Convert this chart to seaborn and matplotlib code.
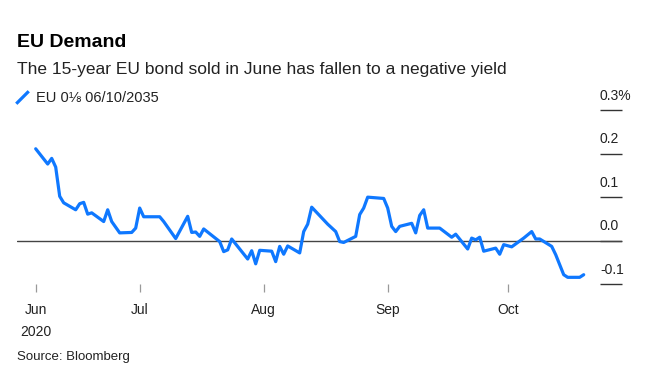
import matplotlib
matplotlib.use("Agg")
import matplotlib.pyplot as plt
from matplotlib.lines import Line2D
import seaborn as sns
import pandas as pd

# yield of the EU 0 1/8 06/10/2035 bond, in percent
dates = [
    "2020-06-05", "2020-06-08", "2020-06-09", "2020-06-10", "2020-06-11", "2020-06-12",
    "2020-06-15", "2020-06-16", "2020-06-17", "2020-06-18", "2020-06-19", "2020-06-22",
    "2020-06-23", "2020-06-24", "2020-06-26", "2020-06-29", "2020-06-30", "2020-07-01",
    "2020-07-02", "2020-07-06", "2020-07-07", "2020-07-09", "2020-07-10", "2020-07-13",
    "2020-07-14", "2020-07-15", "2020-07-16", "2020-07-17", "2020-07-21", "2020-07-22",
    "2020-07-23", "2020-07-24", "2020-07-28", "2020-07-29", "2020-07-30", "2020-07-31",
    "2020-08-03", "2020-08-04", "2020-08-05", "2020-08-06", "2020-08-07", "2020-08-10",
    "2020-08-11", "2020-08-12", "2020-08-13", "2020-08-17", "2020-08-19", "2020-08-20",
    "2020-08-21", "2020-08-24", "2020-08-25", "2020-08-26", "2020-08-27", "2020-08-31",
    "2020-09-01", "2020-09-02", "2020-09-03", "2020-09-04", "2020-09-07", "2020-09-08",
    "2020-09-09", "2020-09-10", "2020-09-11", "2020-09-14", "2020-09-17", "2020-09-18",
    "2020-09-21", "2020-09-22", "2020-09-23", "2020-09-24", "2020-09-25", "2020-09-28",
    "2020-09-29", "2020-09-30", "2020-10-02", "2020-10-05", "2020-10-07", "2020-10-08",
    "2020-10-09", "2020-10-12", "2020-10-13", "2020-10-15", "2020-10-16", "2020-10-19",
    "2020-10-20",
]
yields = [
    0.211, 0.176, 0.189, 0.169, 0.102, 0.087,
    0.071, 0.085, 0.088, 0.061, 0.064, 0.044,
    0.071, 0.044, 0.018, 0.019, 0.029, 0.075,
    0.055, 0.055, 0.044, 0.018, 0.005, 0.056,
    0.019, 0.020, 0.010, 0.027, -0.002, -0.025,
    -0.021, 0.004, -0.042, -0.023, -0.053, -0.022,
    -0.024, -0.048, -0.013, -0.031, -0.012, -0.028,
    0.021, 0.038, 0.077, 0.038, 0.021, -0.002,
    -0.004, 0.010, 0.060, 0.075, 0.100, 0.097,
    0.075, 0.033, 0.021, 0.033, 0.040, 0.018,
    0.058, 0.071, 0.029, 0.029, 0.008, 0.015,
    -0.019, 0.006, 0.002, 0.008, -0.024, -0.017,
    -0.031, -0.009, -0.014, 0.006, 0.021, 0.004,
    0.004, -0.013, -0.032, -0.078, -0.084, -0.084,
    -0.078,
]

x_ticks = ["2020-06-05", "2020-07-01", "2020-08-01", "2020-09-01", "2020-10-01"]
x_tick_labels = ["Jun\n2020", "Jul", "Aug", "Sep", "Oct"]
y_ticks = [-0.1, 0.0, 0.1, 0.2, 0.3]
y_tick_labels = ["-0.1", "0.0", "0.1", "0.2", "0.3%"]

blue = "#0f78ff"
txt = "#222222"

sns.set_theme(style="white")
plt.rcParams["font.family"] = ["Liberation Sans", "DejaVu Sans"]

fig = plt.figure(figsize=(6.5, 3.74), dpi=100)
ax = fig.add_axes([17 / 650, 1 - 284.3 / 374, 605 / 650, 174.3 / 374])

df = pd.DataFrame({"date": pd.to_datetime(dates), "yield": yields})
ax.axhline(0, color="#444444", lw=1, zorder=1)
sns.lineplot(data=df, x="date", y="yield", ax=ax, color=blue, linewidth=2.3, zorder=3)

ax.set_xlim(pd.Timestamp("2020-05-31 07:48"), pd.Timestamp("2020-10-29 13:48"))
ax.set_ylim(-0.1, 0.3)
for s in ax.spines.values():
    s.set_visible(False)
ax.set_xlabel("")
ax.set_ylabel("")

ax.set_xticks(pd.to_datetime(x_ticks))
ax.set_xticklabels(x_tick_labels, fontsize=10, color=txt, linespacing=1.7)
ax.tick_params(axis="x", bottom=True, direction="out", length=5.5, width=0.9,
               color="#999999", pad=8)

# right-hand ticks as short lines, labels sitting above them
ax.yaxis.tick_right()
ax.set_yticks(y_ticks)
ax.set_yticklabels([])
ax.tick_params(axis="y", right=True, left=False, direction="in", length=16,
               width=1, color="#333333")
for v, lab in zip(y_ticks, y_tick_labels):
    ax.annotate(lab, xy=(583 / 605, v), xycoords=ax.get_yaxis_transform(),
                xytext=(0, 7.5), textcoords="offset points",
                ha="left", va="baseline", fontsize=10, color=txt)

fig.text(17 / 650, 1 - 47 / 374, "EU Demand", fontsize=14, fontweight="bold",
         color="black", va="baseline", ha="left")
fig.text(17 / 650, 1 - 74 / 374,
         "The 15-year EU bond sold in June has fallen to a negative yield",
         fontsize=12.5, color=txt, va="baseline", ha="left")

handle = Line2D([], [], color=blue, lw=0, marker=[(-1, -1), (1, 1)],
                markersize=9, markeredgewidth=2.3, markeredgecolor=blue)
fig.legend([handle], ["EU 0\u215b 06/10/2035"], loc="center left",
           bbox_to_anchor=(15 / 650, 1 - 98 / 374), frameon=False,
           borderpad=0, borderaxespad=0, handlelength=1.0, handletextpad=0.45,
           fontsize=10.5, labelcolor=txt)

fig.text(17 / 650, 1 - 360 / 374, "Source: Bloomberg", fontsize=9.5,
         color=txt, va="baseline", ha="left")

fig.savefig("out.png", dpi=100)
